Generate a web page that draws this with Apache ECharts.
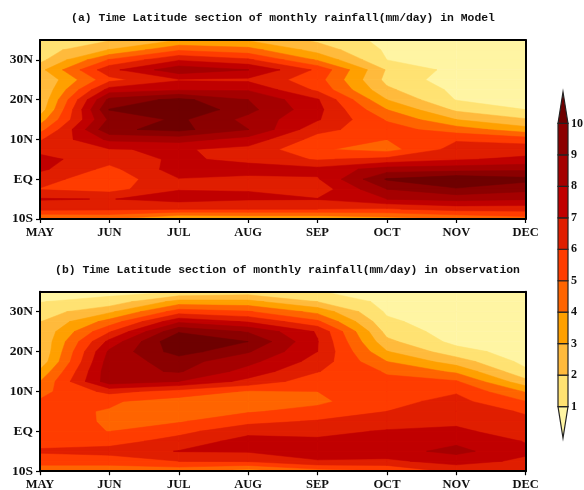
<!DOCTYPE html>
<html><head><meta charset="utf-8"><style>html,body{margin:0;padding:0;background:#fff}#c{width:584px;height:490px}</style>
<script src="https://cdn.jsdelivr.net/npm/echarts@6/dist/echarts.min.js"></script></head>
<body><div id="c"></div><script>
const months=['MAY','JUN','JUL','AUG','SEP','OCT','NOV','DEC'];
const lats=[35,32.5,30,27.5,25,22.5,20,17.5,15,12.5,10,7.5,5,2.5,0,-2.5,-5,-7.5,-10];
const latTicks=[-10,0,10,20,30];
const latLabels=['10S','EQ','10N','20N','30N'];
const levels=[1,2,3,4,5,6,7,8,9,10];
const colors=['#FFF5A3','#FFE272','#FFBA3C','#FFA000','#FF6400','#FF3C00','#E01E00','#C00000','#A50000','#8B0000','#6E0000'];
// rainfall (mm/day) at each latitude, per month — panel (a) model
const modelMay=[1.4,1.5,1.7,2.7,2.0,1.98,2.1,2.4,3.5,4.6,5.9,6.7,7.3,7.2,6.4,5.95,7.1,6.3,3.8];
const modelJun=[1.9,3.05,5.1,6.7,5.7,7.4,9.3,10.05,9.2,9.8,8.2,6.95,6.4,5.7,5.3,5.6,6.96,6.2,4.0];
const modelJul=[3.0,4.9,6.9,8.7,6.9,7.9,10.3,11.0,10.2,10.3,8.4,7.1,7.2,7.5,6.95,6.95,7.4,6.0,2.8];
const modelAug=[2.9,4.4,6.2,8.02,6.8,7.9,9.0,9.3,8.7,9.02,7.6,6.7,6.7,7.5,6.7,6.97,7.1,6.0,3.0];
const modelSep=[1.8,2.6,3.9,5.8,5.4,5.8,7.1,7.3,7.1,6.3,5.6,5.12,5.9,7.3,6.9,6.4,7.05,6.0,3.0];
const modelOct=[0.7,0.85,1.0,1.9,1.7,2.2,3.0,4.0,4.9,5.4,5.0,4.6,6.3,8.5,10.1,9.0,8.0,5.9,3.5];
const modelNov=[0.3,0.3,0.35,0.65,0.45,0.75,0.95,1.8,3.0,4.5,5.9,6.4,6.9,8.6,10.8,9.9,8.3,6.4,4.0];
const modelDec=[0.15,0.15,0.2,0.25,0.3,0.4,0.7,1.0,2.1,3.4,5.5,6.6,7.2,8.8,10.3,9.3,8.1,6.4,4.5];
// panel (b) observation
const obsMay=[0.6,0.97,1.5,1.96,2.15,2.1,2.05,2.3,3.2,4.0,4.7,5.1,5.2,5.3,5.4,5.6,6.15,5.4,4.4];
const obsJun=[0.7,1.35,2.8,4.4,5.9,7.3,8.2,8.5,8.65,8.6,6.3,5.1,4.95,4.93,4.98,5.6,6.4,5.4,4.4];
const obsJul=[1.0,3.4,5.5,7.8,9.9,11.0,10.5,9.4,9.1,8.0,5.6,4.6,4.5,4.9,5.7,6.4,7.05,6.0,4.3];
const obsAug=[1.4,3.3,5.1,6.9,8.9,10.0,9.1,8.3,7.6,6.7,4.9,4.05,4.9,5.7,6.7,7.4,7.1,6.1,3.5];
const obsSep=[1.05,2.0,3.7,5.2,6.9,7.05,7.0,6.6,6.05,5.4,5.0,4.8,5.3,6.1,6.7,7.2,7.6,6.9,4.5];
const obsOct=[0.5,0.7,0.85,1.2,1.65,2.25,3.05,4.0,4.9,5.2,5.4,5.7,6.0,6.5,7.1,7.4,7.6,6.8,4.9];
const obsNov=[0.2,0.25,0.3,0.4,0.5,0.7,1.4,2.5,3.8,5.1,5.9,6.3,6.5,6.8,7.2,7.8,8.3,7.4,6.3];
const obsDec=[0.15,0.2,0.25,0.3,0.35,0.4,0.5,0.7,1.2,2.3,3.9,5.0,5.9,6.2,6.5,6.95,7.2,6.8,6.1];
const model=[modelMay,modelJun,modelJul,modelAug,modelSep,modelOct,modelNov,modelDec];
const obs=[obsMay,obsJun,obsJul,obsAug,obsSep,obsOct,obsNov,obsDec];

function clipCell(table,i,j,L){
  const q=[[i,j],[i+1,j],[i+1,j+1],[i,j+1]].map(p=>[p[0],lats[p[1]],table[p[0]][p[1]]]);
  const out=[];
  for(let n=0;n<4;n++){
    const a=q[n],b=q[(n+1)%4],ia=a[2]>=L,ib=b[2]>=L;
    if(ia)out.push([a[0],a[1]]);
    if(ia!==ib){const t=(L-a[2])/(b[2]-a[2]);out.push([a[0]+t*(b[0]-a[0]),a[1]+t*(b[1]-a[1])]);}
  }
  return out;
}
function contourSeries(table,idx){
  const data=[];
  for(let k=0;k<=levels.length;k++)for(let i=0;i<months.length-1;i++)for(let j=0;j<lats.length-1;j++)data.push([i,lats[j],k,j]);
  return {type:'custom',xAxisIndex:idx,yAxisIndex:idx,clip:true,silent:true,animation:false,z:2,
    encode:{x:0,y:1},data,
    renderItem(params,api){
      const i=api.value(0),k=api.value(2),j=api.value(3);
      const L=k===0?-1e9:levels[k-1];
      const pts=clipCell(table,i,j,L);
      if(pts.length<3)return null;
      return {type:'polygon',shape:{points:pts.map(p=>api.coord(p))},style:{fill:colors[k],stroke:colors[k],lineWidth:0.5}};
    }};
}
const barItems=levels.concat([11]).map((hi,k)=>[k,hi]);
const font='Liberation Serif';
const mkX=(g,show)=>({gridIndex:g,type:'value',min:0,max:7,position:show?'bottom':'top',
  axisLine:{show:true,onZero:false,lineStyle:{color:'#000',width:2}},z:5,splitLine:{show:false},
  axisTick:{show:show,length:4,inside:false,customValues:months.map((m,i)=>i),lineStyle:{color:'#000',width:1.2}},
  axisLabel:{show:show,margin:7,customValues:months.map((m,i)=>i),formatter:v=>months[v],color:'#111',fontFamily:font,fontWeight:'bold',fontSize:12.5,hideOverlap:false,showMinLabel:true,showMaxLabel:true}});
const mkY=(g,show)=>({gridIndex:g,type:'value',min:-10,max:35,position:show?'left':'right',
  axisLine:{show:true,onZero:false,lineStyle:{color:'#000',width:2}},z:5,splitLine:{show:false},
  axisTick:{show:show,length:4,customValues:latTicks,lineStyle:{color:'#000',width:1.2}},
  axisLabel:{show:show,margin:7,customValues:latTicks,formatter:v=>latLabels[latTicks.indexOf(v)],color:'#111',fontFamily:font,fontWeight:'bold',fontSize:13.5,showMinLabel:true}});
const tfont={fontFamily:'Liberation Mono',fontWeight:'bold',fontSize:11.4,color:'#111'};
const option={
  backgroundColor:'#fff',animation:false,
  title:[
    {text:'(a) Time Latitude section of monthly rainfall(mm/day) in Model',left:278,top:8,textAlign:'center',textStyle:tfont},
    {text:'(b) Time Latitude section of monthly rainfall(mm/day) in observation',left:282.5,top:260,textAlign:'center',textStyle:tfont}
  ],
  grid:[
    {left:40,top:40,width:485.7,height:179,outerBoundsMode:'none'},
    {left:40,top:291.7,width:485.7,height:179.5,outerBoundsMode:'none'},
    {left:558,top:92,width:10,height:346,outerBoundsMode:'none'}
  ],
  xAxis:[mkX(0,true),mkX(1,true),
    {gridIndex:2,type:'value',min:0,max:1,show:false},
    mkX(0,false),mkX(1,false)],
  yAxis:[mkY(0,true),mkY(1,true),
    {gridIndex:2,type:'value',min:0,max:11,position:'right',axisLine:{show:false},splitLine:{show:false},
      axisTick:{show:true,length:3,customValues:levels,lineStyle:{color:'#000',width:1.5}},
      axisLabel:{margin:3,customValues:levels,color:'#111',fontFamily:font,fontWeight:'bold',fontSize:12}},
    mkY(0,false),mkY(1,false)],
  series:[
    contourSeries(model,0),
    contourSeries(obs,1),
    {type:'custom',xAxisIndex:2,yAxisIndex:2,silent:true,animation:false,encode:{y:1},data:barItems,clip:false,
      renderItem(params,api){
        const k=api.value(0),hi=api.value(1),lo=hi-1;
        let p;
        if(k===0)p=[[0,1],[1,1],[0.5,0]];
        else if(k===levels.length)p=[[0,10],[1,10],[0.5,11]];
        else p=[[0,lo],[1,lo],[1,hi],[0,hi]];
        return {type:'polygon',shape:{points:p.map(a=>api.coord(a))},style:{fill:colors[k],stroke:'#222',lineWidth:1.2}};
      }}
  ]
};
echarts.init(document.getElementById('c'),null,{renderer:'canvas'}).setOption(option);
</script></body></html>
